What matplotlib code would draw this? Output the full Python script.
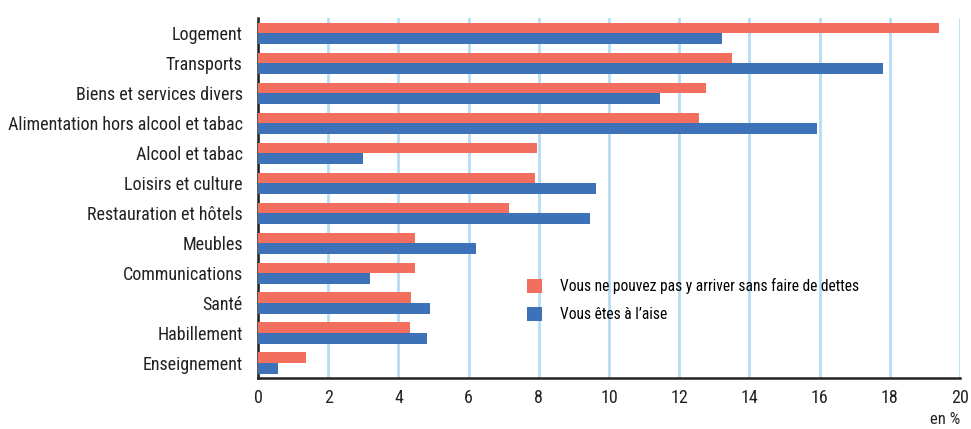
import numpy as np
import matplotlib.pyplot as plt

# postes de consommation, du haut vers le bas
categories = ['Logement', 'Transports', 'Biens et services divers',
              'Alimentation hors alcool et tabac', 'Alcool et tabac',
              'Loisirs et culture', 'Restauration et hôtels', 'Meubles',
              'Communications', 'Santé', 'Habillement', 'Enseignement']
dettes = [19.4, 13.5, 12.75, 12.57, 7.96, 7.88, 7.14, 4.47, 4.47, 4.35, 4.32, 1.37]
aise = [13.23, 17.81, 11.44, 15.93, 2.99, 9.62, 9.47, 6.2, 3.18, 4.89, 4.81, 0.57]
label_dettes = 'Vous ne pouvez pas y arriver sans faire de dettes'
label_aise = 'Vous êtes à l\u2019aise'
xticks = [0, 2, 4, 6, 8, 10, 12, 14, 16, 18, 20]

plt.rcParams['font.family'] = ['Roboto Condensed', 'DejaVu Sans']

fig = plt.figure(figsize=(9.71, 4.29), dpi=100)
ax = fig.add_axes([258 / 971, 1 - 378 / 429, 702 / 971, 360 / 429])

y = np.arange(len(categories))
h = 0.35
ax.barh(y - h / 2, dettes, height=h, color='#F26E5F', label=label_dettes, zorder=3)
ax.barh(y + h / 2, aise, height=h, color='#3E72B8', label=label_aise, zorder=3)

ax.set_ylim(len(categories) - 0.5, -0.5)
ax.set_xlim(0, 20)
ax.set_yticks(y)
ax.set_yticklabels(categories, fontsize=13, color='#222222')
ax.set_xticks(xticks)
ax.set_xticklabels([str(t) for t in xticks], fontsize=13, color='#222222')
ax.tick_params(axis='both', length=0)
ax.tick_params(axis='y', pad=11)
ax.tick_params(axis='x', pad=8)

ax.grid(axis='x', color='#B5DDF3', linewidth=2, zorder=0)
for s in ['top', 'right']:
    ax.spines[s].set_visible(False)
ax.spines['left'].set_color('#222222')
ax.spines['bottom'].set_color('#222222')
ax.spines['left'].set_linewidth(1.8)
ax.spines['bottom'].set_linewidth(1.8)

ax.text(1.0, -0.095, 'en %', transform=ax.transAxes, ha='right', va='top',
        fontsize=12, color='#222222')

ax.legend(loc='upper left', bbox_to_anchor=(0.383, 0.277), frameon=False,
          fontsize=11.2, handlelength=1.0, handleheight=1.0, borderpad=0,
          borderaxespad=0, labelspacing=0.82, handletextpad=1.15)

fig.savefig('out.png', dpi=100)
